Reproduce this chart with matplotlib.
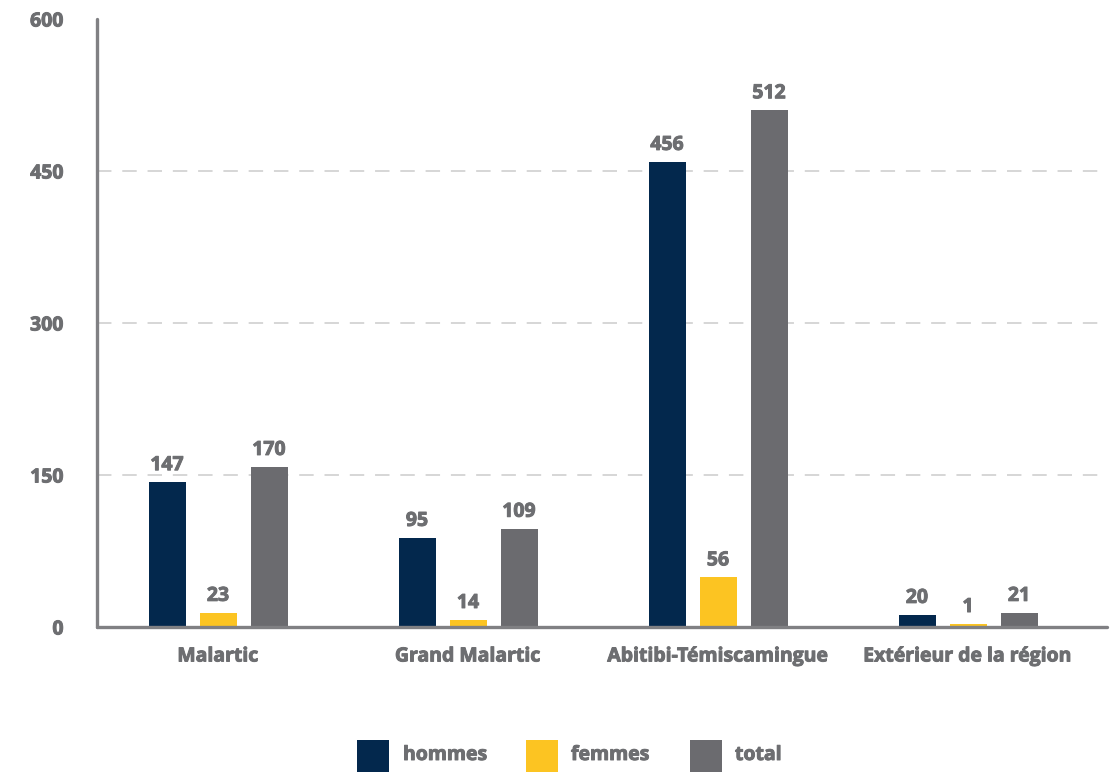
import matplotlib
matplotlib.use("Agg")
import matplotlib.pyplot as plt
from matplotlib.patches import Rectangle
import matplotlib.patheffects as pe
import numpy as np

plt.rcParams['font.family'] = ['Open Sans', 'DejaVu Sans']
plt.rcParams['font.weight'] = 'bold'

categories = ["Malartic", "Grand Malartic", "Abitibi-Témiscamingue", "Extérieur de la région"]
series_names = ["hommes", "femmes", "total"]
# values printed on the bars
hommes = [147, 95, 456, 20]
femmes = [23, 14, 56, 1]
total = [170, 109, 512, 21]
# bar heights as drawn in the reference (not exactly to scale with the labels)
hommes_drawn = [143, 88, 459, 12]
femmes_drawn = [14, 7, 49, 3]
total_drawn = [158, 97, 510, 14]
yticks = [0, 150, 300, 450, 600]

colors = ["#03284d", "#fcc422", "#6b6b6f"]
text_color = "#6d6e71"
axis_color = "#808083"
FS = 14
FW = "bold"
EFF = [pe.withStroke(linewidth=0.7, foreground=text_color)]

W, H = 1114, 772
fig = plt.figure(figsize=(W / 100, H / 100), dpi=100)
ax = fig.add_axes([97 / W, (H - 627) / H, (1107 - 97) / W, (627 - 19) / H])

x = np.arange(len(categories))
width = 0.148
offset = 0.204
labels_all = [hommes, femmes, total]
drawn_all = [hommes_drawn, femmes_drawn, total_drawn]
for i, (vals, drawn) in enumerate(zip(labels_all, drawn_all)):
    xs = x + (i - 1) * offset
    ax.bar(xs, drawn, width=width, color=colors[i], zorder=3)
    for xi, hv, lv in zip(xs, drawn, vals):
        ax.annotate(str(lv), (xi, hv), xytext=(0, 5), textcoords="offset points",
                    ha="center", va="bottom", fontsize=FS, fontweight=FW,
                    color=text_color, zorder=4, path_effects=EFF)

ax.set_xlim(-0.484, 3.556)
ax.set_ylim(0, 600)
ax.set_yticks(yticks)
ax.set_yticklabels([str(t) for t in yticks])
ax.set_xticks(x)
ax.set_xticklabels(categories)
ax.tick_params(axis="both", length=0, labelsize=FS, labelcolor=text_color)
ax.tick_params(axis="y", pad=24)
ax.tick_params(axis="x", pad=14)
for lab in ax.get_xticklabels() + ax.get_yticklabels():
    lab.set_fontweight(FW)
    lab.set_path_effects(EFF)

for t in yticks[1:-1]:
    ax.axhline(t, color="#d3d3d3", linewidth=1.3, linestyle=(0, (8, 6)), zorder=1)

for s in ["top", "right"]:
    ax.spines[s].set_visible(False)
for s in ["left", "bottom"]:
    ax.spines[s].set_color(axis_color)
    ax.spines[s].set_linewidth(2.4)
    ax.spines[s].set_capstyle("round")
    ax.spines[s].set_zorder(5)

# legend
leg_items = [(357, 403), (526, 571), (690, 735)]
for (sx, tx), name, c in zip(leg_items, series_names, colors):
    fig.add_artist(Rectangle((sx / W, 0), 32 / W, 32 / H, transform=fig.transFigure,
                             facecolor=c, edgecolor="none"))
    fig.text(tx / W, (H - 755) / H, name, ha="left", va="center", fontsize=FS,
             fontweight=FW, color=text_color, path_effects=EFF)

fig.savefig("out.png", dpi=100)
